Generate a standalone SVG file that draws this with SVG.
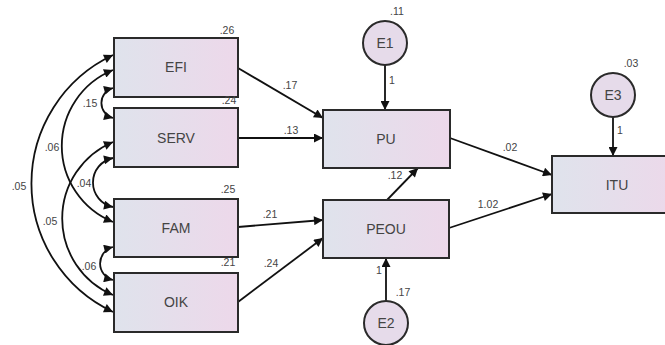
<svg xmlns="http://www.w3.org/2000/svg" width="665" height="345" viewBox="0 0 665 345">
<defs>
<linearGradient id="g" x1="0" y1="0" x2="1" y2="0">
<stop offset="0" stop-color="#dfe3ec"/>
<stop offset="1" stop-color="#edd8ea"/>
</linearGradient>
<marker id="ah" viewBox="0 0 10 10" refX="10" refY="5" markerWidth="13" markerHeight="9" markerUnits="userSpaceOnUse" orient="auto-start-reverse">
<path d="M0,0 L10,5 L0,10 Z" fill="#111"/>
</marker>
<style>
.box{fill:url(#g);stroke:#2a2a2a;stroke-width:2}
.err{fill:#e6dbea;stroke:#2a2a2a;stroke-width:2}
.lbl{font-family:"Liberation Sans",Arial,sans-serif;font-size:14px;fill:#444;text-anchor:middle}
.num{font-family:"Liberation Sans",Arial,sans-serif;font-size:10.5px;fill:#444;text-anchor:middle}
.c{fill:none;stroke:#111;stroke-width:1.8}
.a{marker-end:url(#ah)}
.b{marker-start:url(#ah);marker-end:url(#ah)}
</style>
</defs>
<rect width="665" height="345" fill="#fff"/>
<g id="connectors">
<path class="c b" d="M113,55 A142,142 0 0 0 113,312"/>
<path class="c b" d="M113,70 A82,82 0 0 0 113,222"/>
<path class="c b" d="M113,142 A83,83 0 0 0 113,295"/>
<path class="c b" d="M113,158 A25,25 0 0 0 113,207"/>
<path class="c b" d="M113,88 A15.5,15.5 0 0 0 113,118"/>
<path class="c b" d="M113,247 A17,17 0 0 0 113,280"/>
<line class="c a" x1="238" y1="68" x2="323" y2="118"/>
<line class="c a" x1="238" y1="138" x2="323" y2="138"/>
<line class="c a" x1="238" y1="227" x2="323" y2="220"/>
<line class="c a" x1="238" y1="302" x2="323" y2="238"/>
<line class="c a" x1="387" y1="200" x2="418" y2="168"/>
<line class="c a" x1="385" y1="65" x2="385" y2="110"/>
<line class="c a" x1="386" y1="301" x2="386" y2="258"/>
<line class="c a" x1="613" y1="117" x2="613" y2="156"/>
<line class="c a" x1="450" y1="138" x2="552" y2="175"/>
<line class="c a" x1="449" y1="228" x2="552" y2="194"/>
<text class="num" x="90" y="107">.15</text>
<text class="num" x="52" y="151">.06</text>
<text class="num" x="84" y="187">.04</text>
<text class="num" x="19" y="190">.05</text>
<text class="num" x="50" y="225">.05</text>
<text class="num" x="89" y="270">.06</text>
<text class="num" x="290" y="89">.17</text>
<text class="num" x="291" y="134">.13</text>
<text class="num" x="270" y="218">.21</text>
<text class="num" x="271" y="267">.24</text>
<text class="num" x="395" y="179">.12</text>
<text class="num" x="510" y="151">.02</text>
<text class="num" x="488" y="208">1.02</text>
<text class="num" x="392" y="84">1</text>
<text class="num" x="379" y="274">1</text>
<text class="num" x="620" y="134">1</text>
</g>
<g id="EFI"><rect class="box" x="114" y="38" width="124" height="59"/><text class="lbl" x="176" y="72">EFI</text><text class="num" x="227" y="34">.26</text></g>
<g id="SERV"><text class="num" x="229" y="104">.24</text><rect class="box" x="114" y="108" width="124" height="59"/><text class="lbl" x="176" y="143">SERV</text></g>
<g id="FAM"><rect class="box" x="114" y="199" width="124" height="58"/><text class="lbl" x="176" y="233">FAM</text><text class="num" x="228" y="193">.25</text></g>
<g id="OIK"><text class="num" x="228" y="266">.21</text><rect class="box" x="114" y="273" width="124" height="59"/><text class="lbl" x="176" y="307">OIK</text></g>
<g id="PU"><rect class="box" x="323" y="110" width="127" height="58"/><text class="lbl" x="386" y="144">PU</text></g>
<g id="PEOU"><rect class="box" x="323" y="200" width="126" height="58"/><text class="lbl" x="386" y="234">PEOU</text></g>
<g id="ITU"><rect class="box" x="552" y="156" width="130" height="57"/><text class="lbl" x="617" y="190">ITU</text></g>
<g id="E1"><circle class="err" cx="385" cy="43" r="22"/><text class="lbl" x="385" y="48">E1</text><text class="num" x="397" y="15">.11</text></g>
<g id="E2"><circle class="err" cx="386" cy="323" r="22"/><text class="lbl" x="386" y="328">E2</text><text class="num" x="403" y="296">.17</text></g>
<g id="E3"><circle class="err" cx="613" cy="95" r="22"/><text class="lbl" x="613" y="100">E3</text><text class="num" x="631" y="67">.03</text></g>
</svg>
